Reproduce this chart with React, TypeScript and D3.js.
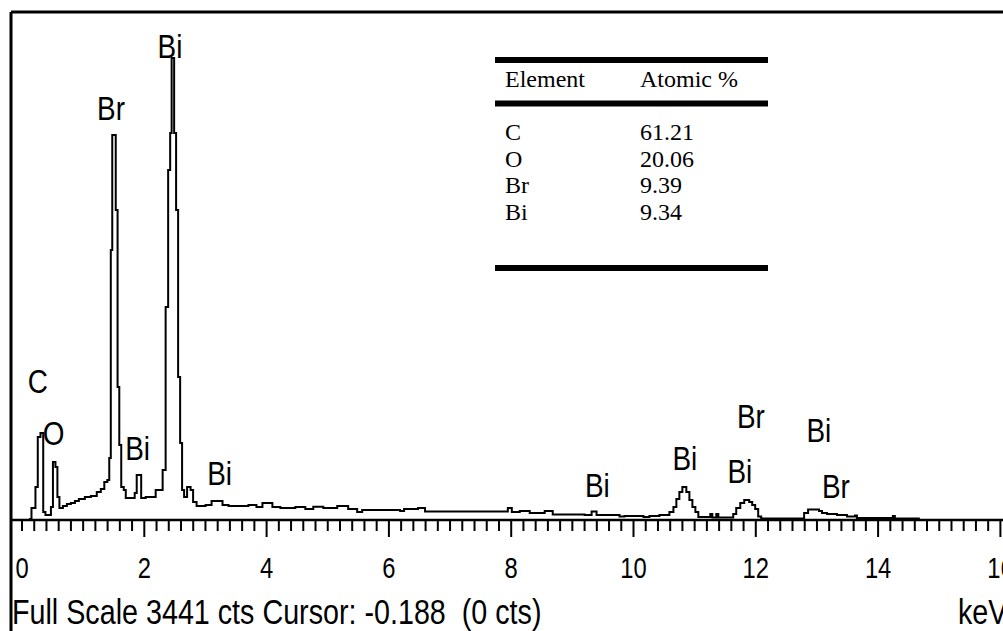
import React from "react";
import * as d3 from "d3";

const W = 1003;
const H = 631;

// EDS spectrum as a step outline: each entry starts a level (keV, counts)
const energyKeV = [
  0.114, 0.155, 0.22, 0.258, 0.302, 0.347, 0.383, 0.473, 0.506, 0.547, 0.579, 0.612,
  0.669, 0.734, 0.799, 0.865, 0.93, 1.028, 1.126, 1.223, 1.289, 1.346, 1.395, 1.427,
  1.452, 1.476, 1.533, 1.563, 1.591, 1.623, 1.664, 1.697, 1.843, 1.876, 1.949, 2.023,
  2.186, 2.3, 2.349, 2.39, 2.423, 2.447, 2.488, 2.52, 2.553, 2.586, 2.618, 2.651,
  2.7, 2.757, 2.798, 2.855, 3.002, 3.1, 3.279, 3.377, 3.703, 3.834, 3.932, 4.095,
  4.225, 4.47, 4.633, 4.763, 4.927, 5.155, 5.334, 5.481, 5.563, 6.183, 6.248, 6.476,
  6.591, 7.945, 8.01, 8.14, 8.303, 8.548, 8.679, 9.201, 9.315, 9.396, 9.772, 9.853,
  10.163, 10.261, 10.424, 10.587, 10.653, 10.701, 10.75, 10.799, 10.864, 10.914, 10.963, 11.012,
  11.06, 11.256, 11.289, 11.354, 11.387, 11.631, 11.68, 11.746, 11.811, 11.892, 11.941, 11.99,
  12.039, 12.088, 12.79, 12.855, 13.034, 13.083, 13.165, 13.328, 13.491, 13.622, 13.654, 14.241,
  14.274, 14.666,
];
const counts = [
  7, 81, 224, 562, 589, 54, 34, 88, 393, 359, 156, 81,
  95, 108, 115, 129, 142, 156, 163, 190, 210, 257, 271, 420,
  1829, 2608, 2100, 901, 508, 224, 203, 149, 183, 305, 149, 156,
  203, 339, 1443, 2371, 2622, 3130, 2622, 2100, 969, 522, 203, 156,
  224, 203, 122, 95, 102, 129, 102, 95, 102, 88, 115, 88,
  81, 88, 75, 90, 81, 95, 75, 54, 68, 61, 75, 81,
  58, 81, 54, 61, 47, 61, 37, 34, 58, 34, 24, 27,
  20, 27, 34, 54, 88, 142, 190, 224, 190, 135, 88, 54,
  20, 41, 17, 41, 17, 41, 81, 115, 135, 122, 102, 75,
  24, 10, 47, 71, 61, 47, 41, 34, 24, 30, 14, 27,
  10, 7,
];

// element line labels: text, energy (keV), baseline level (counts)
const peakLabelText = ["C", "O", "Br", "Bi", "Bi", "Bi", "Bi", "Bi", "Br", "Bi", "Bi", "Br"];
const peakLabelKeV = [0.26, 0.515, 1.455, 2.42, 1.89, 3.23, 9.41, 10.84, 11.92, 11.74, 13.03, 13.31];
const peakLabelCounts = [860, 508, 2710, 3130, 406, 237, 156, 339, 623, 251, 528, 149];

// composition table
const tableElements = ["C", "O", "Br", "Bi"];
const tableAtomicPct = [61.21, 20.06, 9.39, 9.34];

const majorTicks = [0, 2, 4, 6, 8, 10, 12, 14, 16];
const minorTicks = d3.range(0, 81).map((i) => +(i * 0.2).toFixed(1));

const fullScale = 3441;
const cursorKeV = -0.188;
const cursorCounts = 0;

const SANS = "'Liberation Sans', Arial, sans-serif";
const SERIF = "'Liberation Serif', 'Times New Roman', serif";
const CONDENSE = 0.82;

// condensed sans text, drawn by squeezing a regular face horizontally
function NText({
  x,
  y,
  size,
  anchor = "start",
  children,
}: {
  x: number;
  y: number;
  size: number;
  anchor?: "start" | "middle" | "end";
  children: React.ReactNode;
}) {
  return (
    <text
      transform={`translate(${x},${y}) scale(${CONDENSE},1)`}
      textAnchor={anchor}
      fontFamily={SANS}
      fontSize={size}
      fill="#000"
      style={{ whiteSpace: "pre" }}
    >
      {children}
    </text>
  );
}

export default function App() {
  const x = d3.scaleLinear().domain([0, 16]).range([22, 1000.4]);
  const y = d3.scaleLinear().domain([0, fullScale]).range([520, 12]);

  const pts: [number, number][] = energyKeV.map((e, i) => [e, counts[i]]);
  const line = d3
    .line<[number, number]>()
    .x((d) => x(d[0]))
    .y((d) => y(d[1]))
    .curve(d3.curveStepAfter);

  const baseY = y(0);
  const frameL = 11;
  const frameT = 12;

  const tblL = 495;
  const tblR = 768;
  const colA = 505;
  const colB = 640;
  const headBase = 87;
  const rowBase = [140, 166.7, 193.3, 220];
  const tblFont = 24;

  return (
    <svg
      width={W}
      height={H}
      style={{ position: "absolute", left: 0, top: 0, display: "block", background: "#fff" }}
    >
      <rect x={0} y={0} width={W} height={H} fill="#fff" />
      {/* frame */}
      <line x1={frameL} y1={frameT} x2={W} y2={frameT} stroke="#000" strokeWidth={3} />
      <line x1={frameL} y1={frameT} x2={frameL} y2={H} stroke="#000" strokeWidth={3} />

      {/* spectrum */}
      <path d={line(pts) || ""} fill="none" stroke="#000" strokeWidth={2} strokeLinejoin="miter" />

      {/* energy axis */}
      <line x1={frameL} y1={baseY} x2={W} y2={baseY} stroke="#000" strokeWidth={2.5} />
      {minorTicks.map((t) => {
        const isMajor = t > 0 && Math.abs(t / 2 - Math.round(t / 2)) < 1e-6;
        return (
          <line
            key={t}
            x1={x(t)}
            x2={x(t)}
            y1={baseY}
            y2={baseY + (isMajor ? 17 : 11)}
            stroke="#000"
            strokeWidth={2}
          />
        );
      })}
      {majorTicks.map((t) => (
        <NText key={t} x={x(t)} y={578} size={29} anchor="middle">
          {t}
        </NText>
      ))}

      {/* line labels */}
      {peakLabelText.map((s, i) => (
        <NText key={i} x={x(peakLabelKeV[i])} y={y(peakLabelCounts[i])} size={34} anchor="middle">
          {s}
        </NText>
      ))}

      {/* status line */}
      <NText x={12} y={624} size={35}>
        {`Full Scale ${fullScale} cts Cursor: ${cursorKeV.toFixed(3)}  (${cursorCounts} cts)`}
      </NText>
      <NText x={958} y={624} size={35}>
        keV
      </NText>

      {/* composition table */}
      <rect x={tblL} y={57} width={tblR - tblL} height={6} fill="#000" />
      <rect x={tblL} y={100.5} width={tblR - tblL} height={6} fill="#000" />
      <rect x={tblL} y={265} width={tblR - tblL} height={6} fill="#000" />
      <text x={colA} y={headBase} fontFamily={SERIF} fontSize={tblFont} fill="#000">
        Element
      </text>
      <text x={colB} y={headBase} fontFamily={SERIF} fontSize={tblFont} fill="#000">
        Atomic %
      </text>
      {tableElements.map((el, i) => (
        <g key={el}>
          <text x={colA} y={rowBase[i]} fontFamily={SERIF} fontSize={tblFont} fill="#000">
            {el}
          </text>
          <text x={colB} y={rowBase[i]} fontFamily={SERIF} fontSize={tblFont} fill="#000">
            {tableAtomicPct[i].toFixed(2)}
          </text>
        </g>
      ))}
    </svg>
  );
}
